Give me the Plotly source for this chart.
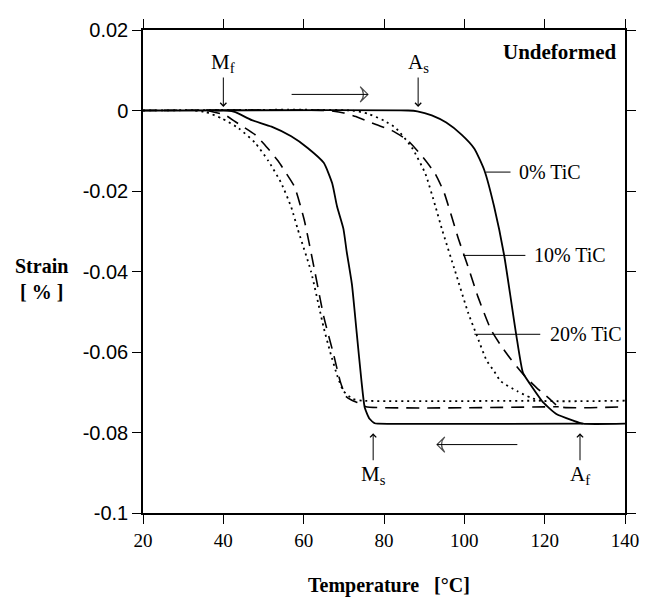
import plotly.graph_objects as go

# ---------------- data ----------------
# 0% TiC (solid)
heat0_T = [20, 86, 88.3, 91.9, 95.5, 99.3, 102.5, 105.0, 107.4, 109.9, 112.9, 114.6, 116.4, 119.7, 122.9, 127.0, 129.5, 140]
heat0_S = [0, 0, -0.0002, -0.0012, -0.003, -0.006, -0.0095, -0.0149, -0.0238, -0.0359, -0.0556, -0.0652, -0.068, -0.0726, -0.0754, -0.077, -0.0778, -0.0778]
cool0_T = [38, 41, 43, 47.1, 52, 56.9, 61, 65, 67.1, 68.3, 69.9, 70.7, 72.0, 73.2, 74.4, 75.2, 76.4, 77.7, 78.5]
cool0_S = [0, 0, -0.0004, -0.0024, -0.004, -0.0064, -0.0093, -0.013, -0.0181, -0.0238, -0.0294, -0.035, -0.0431, -0.0552, -0.0673, -0.0738, -0.0766, -0.0777, -0.0778]

# 10% TiC (dashed)
heat10_T = [20, 66, 70, 73, 78, 82, 86, 90, 92.8, 95, 98.5, 101, 103.4, 106.6, 109.1, 111.5, 114.8, 118, 121.3, 123.5, 140]
heat10_S = [0, 0, -0.0006, -0.0015, -0.0035, -0.005, -0.0075, -0.012, -0.0158, -0.0205, -0.0318, -0.039, -0.0463, -0.0544, -0.0584, -0.0617, -0.0657, -0.0689, -0.0717, -0.0736, -0.0736]
cool10_T = [36, 40.6, 43, 47.9, 50.3, 53.6, 55.2, 57.7, 60.1, 62.6, 65, 67.5, 69.1, 70.5, 72, 74, 75.5]
cool10_S = [0, -0.0012, -0.0028, -0.006, -0.0085, -0.0125, -0.0149, -0.0189, -0.027, -0.0391, -0.0512, -0.0608, -0.0673, -0.071, -0.072, -0.0728, -0.0736]

# 20% TiC (dotted)
heat20_T = [20, 72, 76, 80, 83, 87, 90.3, 92.8, 94.4, 97.7, 101, 103, 105.5, 107.5, 109.1, 113.1, 116.4, 119, 140]
heat20_S = [0, 0, -0.0008, -0.0025, -0.0044, -0.0093, -0.0157, -0.0238, -0.0294, -0.0399, -0.0504, -0.0556, -0.062, -0.0649, -0.0673, -0.0697, -0.0713, -0.0721, -0.0721]
cool20_T = [33, 35.7, 39.7, 43.8, 47.9, 51.2, 54.4, 56.9, 58.5, 61.8, 65, 66.6, 68.3, 69.9, 72.3, 74.8]
cool20_S = [0, -0.0004, -0.002, -0.0044, -0.008, -0.0125, -0.018, -0.024, -0.0294, -0.0399, -0.054, -0.06, -0.0657, -0.0697, -0.0717, -0.0721]

x_tick_vals = [20, 40, 60, 80, 100, 120, 140]
x_tick_text = ["20", "40", "60", "80", "100", "120", "140"]
y_tick_vals = [0.02, 0, -0.02, -0.04, -0.06, -0.08, -0.1]
y_tick_text = ["0.02", "0", "-0.02", "-0.04", "-0.06", "-0.08", "-0.1"]

series_labels = ["0% TiC", "10% TiC", "20% TiC"]
label_T = [113.1, 116.8, 120.9]
label_S = [-0.0153, -0.036, -0.0556]
leader_T0 = [105.4, 99.7, 102.5]
leader_T1 = [111.5, 115.2, 118.9]

# transformation temperature markers: label, temperature, strain at arrow tip, strain at label
marker_labels = ["M<sub>f</sub>", "A<sub>s</sub>", "M<sub>s</sub>", "A<sub>f</sub>"]
marker_T = [40, 88.5, 77.3, 128.8]
marker_tip_S = [0.0009, 0.0009, -0.0802, -0.0802]
marker_text_S = [0.0118, 0.0118, -0.0905, -0.0905]

# heating (upper) and cooling (lower) direction arrows: start -> end
heat_arrow_T = [57, 76]
heat_arrow_S = [0.004, 0.004]
cool_arrow_T = [113.2, 93.2]
cool_arrow_S = [-0.083, -0.083]

# ---------------- figure ----------------
SERIF = "Liberation Serif, Times New Roman, serif"
SANS = "Liberation Sans, Arial, sans-serif"

def loop(hT, hS, cT, cS):
    xs = list(hT) + [None] + list(cT) + [hT[-2]]
    ys = list(hS) + [None] + list(cS) + [hS[-2]]
    return xs, ys

fig = go.Figure()
styles = [dict(dash="solid", width=1.8),
          dict(dash="13px,8px", width=1.6),
          dict(dash="2px,4px", width=1.8)]
for (hT, hS, cT, cS), st, name in zip(
        [(heat0_T, heat0_S, cool0_T, cool0_S),
         (heat10_T, heat10_S, cool10_T, cool10_S),
         (heat20_T, heat20_S, cool20_T, cool20_S)], styles, series_labels):
    xs, ys = loop(hT, hS, cT, cS)
    fig.add_trace(go.Scatter(x=xs, y=ys, mode="lines", name=name,
                             line=dict(color="black", shape="spline", smoothing=0.5, **st),
                             connectgaps=False, showlegend=False, hoverinfo="skip"))

# direction arrows (line + open arrowhead marker at the end)
for aT, aS in [(heat_arrow_T, heat_arrow_S), (cool_arrow_T, cool_arrow_S)]:
    fig.add_trace(go.Scatter(x=aT, y=aS, mode="lines+markers",
                             line=dict(color="black", width=1),
                             marker=dict(symbol="arrow-wide-open", size=[0, 11], angleref="previous",
                                         color="black", line=dict(color="black", width=1.2)),
                             showlegend=False, hoverinfo="skip"))

ann = []
shapes = []
# labels with leader lines
for lab, t, s, t0, t1 in zip(series_labels, label_T, label_S, leader_T0, leader_T1):
    shapes.append(dict(type="line", xref="x", yref="y", x0=t0, x1=t1, y0=s, y1=s,
                       line=dict(color="black", width=1)))
    ann.append(dict(x=t, y=s, xref="x", yref="y", text=lab, showarrow=False,
                    xanchor="left", yanchor="middle",
                    font=dict(family=SERIF, size=20, color="black")))

# transformation temperatures: label with arrow pointing at the curve
for lab, t, tip, ts in zip(marker_labels, marker_T, marker_tip_S, marker_text_S):
    ann.append(dict(x=t, y=tip, ax=t, ay=ts, xref="x", yref="y", axref="x", ayref="y",
                    text=lab, showarrow=True, arrowhead=4, arrowsize=1.2, arrowwidth=1,
                    arrowcolor="black", standoff=0,
                    font=dict(family=SERIF, size=21, color="black")))

ann.append(dict(x=0.985, y=0.955, xref="paper", yref="paper", text="<b>Undeformed</b>",
                showarrow=False, xanchor="right", yanchor="middle",
                font=dict(family=SERIF, size=21, color="black")))

# axis titles
ann.append(dict(x=-0.21, y=0.485, xref="paper", yref="paper", text="<b>Strain</b><br><b>[ % ]</b>",
                showarrow=False, xanchor="center", yanchor="middle", align="center",
                font=dict(family=SERIF, size=20, color="black")))
ann.append(dict(x=0.51, y=-0.151, xref="paper", yref="paper", text="<b>Temperature   [°C]</b>",
                showarrow=False, xanchor="center", yanchor="middle",
                font=dict(family=SERIF, size=20, color="black")))

axis_common = dict(showgrid=False, zeroline=False, showline=True, linecolor="black", linewidth=1.5,
                   mirror="ticks", ticks="outside", ticklen=9, tickwidth=1.2, tickcolor="black")

fig.update_layout(
    width=642, height=589,
    margin=dict(l=135, r=17, t=11, b=84),
    paper_bgcolor="white", plot_bgcolor="white",
    xaxis=dict(range=[20, 140], tickvals=x_tick_vals, ticktext=x_tick_text,
               tickfont=dict(family=SERIF, size=19, color="black"), **axis_common),
    yaxis=dict(range=[-0.1, 0.02], tickvals=y_tick_vals, ticktext=y_tick_text,
               tickfont=dict(family=SANS, size=20, color="black"), **axis_common),
    annotations=ann, shapes=shapes,
    showlegend=False,
)

fig.write_html("out.html")
